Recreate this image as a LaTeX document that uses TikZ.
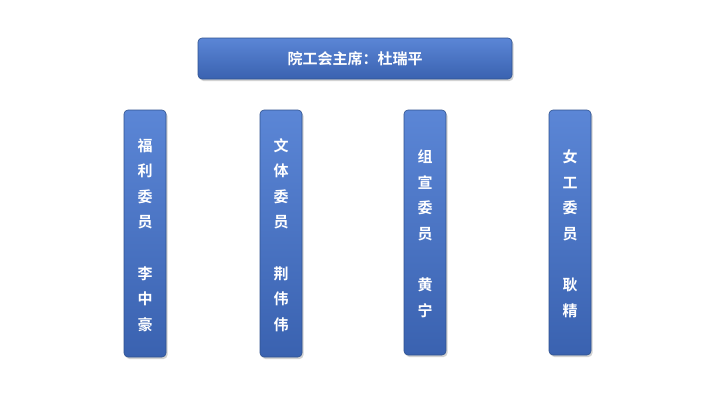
\documentclass[tikz,border=0pt]{standalone}
\usepackage{fontspec}
\newfontfamily\cjk{Noto Sans CJK SC}[BoldFont={Noto Sans CJK SC Bold}]
\usetikzlibrary{shadows}
\definecolor{bA}{HTML}{5B86D6}
\definecolor{bB}{HTML}{3A62B0}
\definecolor{bE}{HTML}{2F528F}
\begin{document}
\begin{tikzpicture}[x=1bp,y=-1bp,
  box/.style={draw=bE,line width=0.6pt,rounded corners=4bp,top color=bA,bottom color=bB,
    drop shadow={shadow xshift=1.5bp,shadow yshift=-2bp,opacity=0.35},text=white,font=\cjk\bfseries},
  vbox/.style={box,minimum width=42bp,inner sep=0pt},
  vtext/.style={text=white,inner sep=0pt,align=center,font=\cjk\bfseries\fontsize{15bp}{25.6bp}\selectfont}]
\useasboundingbox (0,0) rectangle (712,409);
\fill[white] (0,0) rectangle (712,409);
\node[box,minimum width=314bp,minimum height=41bp,font=\cjk\bfseries\fontsize{15bp}{18bp}\selectfont] (top) at (355,58.5) {院工会主席：杜瑞平};
\node[vbox,minimum height=247bp] (b1) at (145,233.5) {};
\node[vbox,minimum height=247bp] (b2) at (281,233.5) {};
\node[vbox,minimum height=245bp] (b3) at (425,232.5) {};
\node[vbox,minimum height=245bp] (b4) at (570,232.5) {};
\node[vtext] (t1) at (145,235) {福\\利\\委\\员\\ \\李\\中\\豪};
\node[vtext] (t2) at (281,235) {文\\体\\委\\员\\ \\荆\\伟\\伟};
\node[vtext] (t3) at (425,233.5) {组\\宣\\委\\员\\ \\黄\\宁};
\node[vtext] (t4) at (570,233.5) {女\\工\\委\\员\\ \\耿\\精};
\end{tikzpicture}
\end{document}
